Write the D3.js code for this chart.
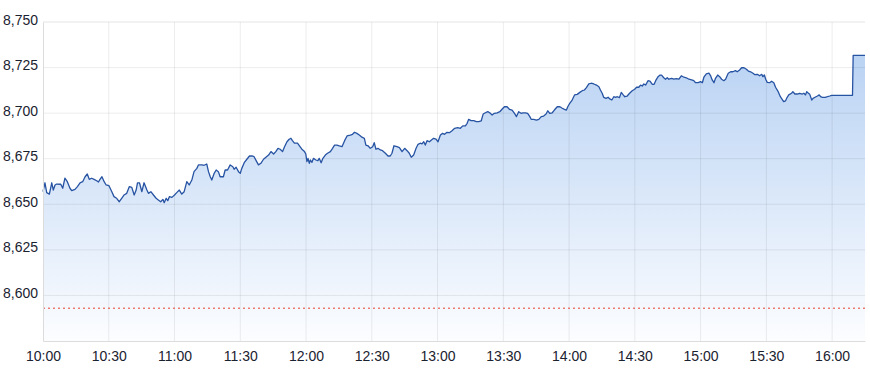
<!DOCTYPE html>
<html>
<head>
<meta charset="utf-8">
<script src="https://cdn.jsdelivr.net/npm/d3@7"></script>
<style>
  body { margin: 0; background: #fff; }
  #chart text { font-family: "Liberation Sans", Arial, sans-serif; }
</style>
</head>
<body>
<div id="chart"></div>
<script>
// minutes after 10:00 and index level
const minutes = [
  0, 0.9, 1.7, 2.9, 4.0, 4.7, 5.5, 6.2, 8.1, 9.0, 10.0, 11.1, 12.3, 13.1, 14.6, 15.7, 16.9, 18.1, 19.2, 20.2,
  21.1, 22.2, 23.3, 24.5, 25.3, 26.0, 26.9, 27.9, 28.8, 30.1, 31.4, 32.4, 33.6, 34.8, 35.9, 37.0, 38.2, 39.4, 40.5, 41.6,
  42.5, 43.1, 44.0, 45.1, 46.1, 47.4, 48.1, 49.2, 50.4, 51.6, 52.6, 53.7, 54.7, 55.3, 56.2, 56.9, 57.7, 58.8, 60.0, 61.0,
  62.2, 63.3, 64.4, 65.6, 66.7, 67.9, 68.9, 70.2, 70.9, 72.5, 73.5, 74.7, 75.5, 76.3, 77.0, 78.1, 79.0, 80.0, 80.8, 82.3,
  83.1, 84.2, 85.4, 86.6, 87.2, 88.1, 89.2, 90.0, 90.7, 91.8, 93.0, 94.2, 95.3, 96.3, 97.3, 98.3, 99.4, 100.6, 101.7, 102.9,
  104.0, 105.2, 106.2, 107.2, 108.2, 109.3, 110.2, 111.3, 112.3, 113.1, 113.8, 114.7, 116.1, 117.0, 118.1, 119.3, 119.9, 120.4, 120.9, 121.5,
  122.0, 122.7, 123.4, 124.5, 125.4, 126.0, 126.9, 127.7, 128.8, 129.8, 131.1, 132.1, 133.0, 134.1, 135.2, 136.4, 137.6, 138.7, 140.2, 141.2,
  142.1, 143.2, 144.3, 145.5, 146.6, 147.3, 148.3, 149.3, 150.4, 151.1, 151.9, 152.8, 153.9, 154.9, 156.2, 157.4, 158.4, 159.2, 160.1, 161.5,
  162.6, 163.8, 165.0, 166.1, 167.1, 168.0, 169.1, 170.2, 171.1, 172.1, 172.9, 173.7, 174.4, 175.2, 176.3, 177.2, 178.2, 179.3, 180.2, 181.3,
  182.3, 183.2, 184.3, 185.4, 186.6, 187.8, 189.2, 190.4, 191.5, 192.7, 193.5, 194.2, 195.3, 196.5, 197.7, 198.8, 199.9, 200.8, 201.8, 202.9,
  203.8, 204.9, 205.9, 207.2, 208.4, 209.4, 210.5, 211.7, 212.8, 214.0, 215.1, 216.0, 217.0, 218.1, 219.0, 220.1, 221.1, 222.1, 222.7, 223.9,
  225.1, 226.2, 227.3, 228.4, 229.5, 230.3, 231.2, 232.3, 233.3, 234.6, 235.8, 236.9, 237.9, 238.8, 239.4, 240.3, 241.4, 242.5, 243.7, 244.9,
  246.0, 247.0, 247.9, 249.0, 250.1, 251.3, 252.5, 253.6, 254.3, 255.1, 255.8, 256.9, 257.8, 258.6, 259.5, 260.4, 261.2, 262.0, 263.0, 263.8,
  264.7, 265.4, 266.5, 267.6, 268.8, 269.9, 270.8, 271.8, 272.6, 273.4, 274.1, 274.9, 276.0, 276.9, 278.0, 278.8, 279.5, 280.6, 281.5, 282.2,
  283.2, 284.0, 284.8, 285.5, 286.8, 287.8, 288.9, 290.1, 291.2, 292.4, 293.5, 294.7, 295.9, 296.9, 297.7, 298.9, 300.0, 300.8, 301.5, 302.6,
  303.8, 304.6, 305.3, 306.1, 306.8, 307.8, 308.7, 309.6, 310.6, 311.4, 312.6, 313.7, 314.7, 315.9, 316.7, 317.8, 318.7, 319.8, 320.9, 321.8,
  322.8, 323.9, 324.8, 325.9, 326.9, 327.9, 328.4, 329.1, 329.7, 330.4, 331.5, 332.4, 333.4, 334.2, 335.4, 336.4, 337.2, 337.9, 338.7, 339.5,
  340.2, 341.5, 342.1, 343.0, 344.1, 345.2, 346.4, 347.1, 347.9, 348.4, 349.2, 349.8, 350.7, 351.3, 352.2, 353.3, 354.1, 354.8, 355.6, 356.8,
  357.9, 358.9, 359.8, 369.3, 369.6, 375
];
const prices = [
  8656.9, 8661.8, 8656.4, 8655.6, 8661.8, 8657.8, 8660.6, 8661.1, 8661.0, 8658.8, 8664.3, 8662.4, 8658.8, 8657.5, 8658.2, 8659.7, 8661.8, 8662.4, 8665.1, 8666.6,
  8663.7, 8664.3, 8663.7, 8662.9, 8662.2, 8663.7, 8665.1, 8662.4, 8660.6, 8660.2, 8656.9, 8654.2, 8653.3, 8651.4, 8653.3, 8655.1, 8656.0, 8659.7, 8659.3, 8655.1,
  8657.8, 8661.8, 8661.8, 8656.9, 8661.8, 8657.8, 8656.0, 8656.9, 8655.1, 8653.3, 8652.4, 8651.4, 8652.7, 8650.9, 8653.3, 8652.0, 8654.2, 8653.8, 8655.1, 8656.4,
  8657.8, 8655.6, 8656.9, 8662.4, 8660.6, 8663.3, 8667.9, 8669.7, 8671.6, 8671.6, 8671.4, 8672.1, 8667.9, 8665.1, 8663.3, 8667.0, 8668.8, 8667.9, 8665.1, 8665.1,
  8668.8, 8668.8, 8671.6, 8670.6, 8669.2, 8670.3, 8667.9, 8667.0, 8669.7, 8672.8, 8674.7, 8676.5, 8676.5, 8676.1, 8673.8, 8671.6, 8672.5, 8674.7, 8675.8, 8677.0,
  8678.9, 8677.6, 8678.9, 8680.7, 8680.2, 8678.9, 8681.6, 8684.3, 8685.7, 8686.2, 8684.9, 8683.5, 8683.5, 8682.0, 8680.2, 8678.9, 8677.6, 8673.4, 8675.2, 8672.5,
  8674.3, 8673.0, 8675.2, 8674.3, 8673.9, 8675.2, 8672.8, 8675.2, 8677.0, 8678.0, 8678.9, 8680.7, 8682.5, 8682.5, 8682.0, 8681.6, 8684.9, 8687.5, 8688.0, 8688.4,
  8689.5, 8688.9, 8688.0, 8686.8, 8686.2, 8682.5, 8682.1, 8680.7, 8681.6, 8683.8, 8680.2, 8680.7, 8679.8, 8679.4, 8678.0, 8676.5, 8676.5, 8678.0, 8682.1, 8681.6,
  8681.1, 8678.9, 8680.7, 8679.4, 8678.0, 8675.8, 8677.0, 8680.7, 8682.9, 8683.5, 8683.1, 8684.3, 8682.5, 8684.9, 8684.3, 8685.3, 8686.2, 8685.7, 8684.3, 8688.0,
  8688.9, 8688.4, 8689.5, 8689.3, 8690.4, 8691.7, 8692.0, 8691.7, 8693.0, 8693.0, 8694.4, 8696.6, 8695.9, 8695.9, 8695.3, 8695.3, 8695.7, 8699.5, 8700.2, 8700.8,
  8700.2, 8699.0, 8699.9, 8700.2, 8700.8, 8702.1, 8703.5, 8703.5, 8702.1, 8701.7, 8699.9, 8698.1, 8700.8, 8699.9, 8700.2, 8700.2, 8699.9, 8698.1, 8696.6, 8696.6,
  8696.2, 8696.6, 8698.1, 8698.4, 8699.5, 8701.3, 8699.9, 8700.2, 8701.7, 8703.5, 8703.5, 8702.7, 8702.1, 8701.7, 8703.5, 8705.4, 8707.2, 8710.0, 8710.3, 8711.4,
  8712.3, 8712.7, 8714.0, 8716.0, 8716.4, 8716.0, 8715.4, 8714.5, 8712.7, 8710.9, 8708.7, 8708.1, 8708.7, 8707.8, 8707.2, 8709.0, 8708.7, 8709.0, 8708.5, 8711.4,
  8710.0, 8709.0, 8709.4, 8710.9, 8712.3, 8713.1, 8714.2, 8714.2, 8715.4, 8714.9, 8716.0, 8715.4, 8717.8, 8717.6, 8715.8, 8715.8, 8717.8, 8720.0, 8720.9, 8720.9,
  8719.4, 8718.6, 8719.4, 8718.6, 8719.1, 8718.7, 8718.9, 8718.6, 8720.5, 8719.7, 8719.4, 8718.6, 8718.2, 8717.8, 8716.7, 8716.7, 8717.3, 8716.7, 8719.7, 8721.6,
  8721.9, 8720.4, 8718.2, 8716.7, 8719.1, 8720.9, 8720.0, 8718.6, 8717.8, 8718.6, 8721.9, 8722.7, 8722.7, 8723.3, 8722.7, 8723.7, 8724.9, 8724.9, 8724.1, 8723.1,
  8722.7, 8721.9, 8721.1, 8721.3, 8720.5, 8721.3, 8720.0, 8720.9, 8718.6, 8716.9, 8716.7, 8717.5, 8716.7, 8714.2, 8711.8, 8709.0, 8707.6, 8706.3, 8706.7, 8708.7,
  8710.0, 8710.9, 8711.8, 8710.5, 8710.5, 8710.9, 8710.5, 8710.9, 8710.0, 8711.8, 8710.9, 8710.3, 8707.2, 8708.1, 8708.7, 8709.4, 8710.0, 8709.0, 8708.7, 8708.7,
  8709.0, 8709.4, 8709.8, 8709.8, 8731.7, 8731.7
];
const yTicks = [8600, 8625, 8650, 8675, 8700, 8725, 8750];
const prevClose = 8593;

// Set Dimensions
const width = 870;
const height = 371;
const margin = { top: 22, right: 5, bottom: 30, left: 43 };

const start = new Date(2024, 0, 2, 10, 0);
const end = new Date(2024, 0, 2, 16, 15);
const data = minutes.map((m, i) => [new Date(start.getTime() + m * 60000), prices[i]]);

const svg = d3.select("#chart")
  .append("svg")
  .attr("width", width)
  .attr("height", height);

const x = d3.scaleTime()
  .domain([start, end])
  .range([margin.left, width - margin.right]);

const y = d3.scaleLinear()
  .domain([8575, 8750])
  .range([height - margin.bottom, margin.top]);

// gradient under the line
const grad = svg.append("defs").append("linearGradient")
  .attr("id", "fill")
  .attr("gradientUnits", "userSpaceOnUse")
  .attr("x1", 0).attr("x2", 0)
  .attr("y1", margin.top).attr("y2", height - margin.bottom);
grad.append("stop").attr("offset", "0%").attr("stop-color", "#b2cef2");
grad.append("stop").attr("offset", "100%").attr("stop-color", "#fcfdff");

svg.append("path")
  .datum(data)
  .attr("fill", "url(#fill)")
  .attr("d", d3.area()
    .x(d => x(d[0]))
    .y0(y(8575))
    .y1(d => y(d[1])));

// Grid
const xTicks = x.ticks(d3.timeMinute.every(30));
svg.append("g")
  .selectAll("line")
  .data(xTicks.slice(1)).enter()
  .append("line")
  .attr("x1", d => x(d)).attr("x2", d => x(d))
  .attr("y1", margin.top).attr("y2", height - margin.bottom)
  .attr("stroke", "rgba(0,0,0,0.075)");

svg.append("g")
  .selectAll("line")
  .data(yTicks).enter()
  .append("line")
  .attr("x1", margin.left).attr("x2", width - margin.right)
  .attr("y1", d => y(d)).attr("y2", d => y(d))
  .attr("stroke", d => d === 8750 ? "rgba(0,0,0,0.1)" : "rgba(0,0,0,0.075)");

// previous close
svg.append("line")
  .attr("x1", margin.left).attr("x2", width - margin.right)
  .attr("y1", y(prevClose)).attr("y2", y(prevClose))
  .attr("stroke", "#e8412e")
  .attr("stroke-dasharray", "2,3");

// Line
svg.append("path")
  .datum(data)
  .attr("fill", "none")
  .attr("stroke", "#2753a3")
  .attr("stroke-width", 1.3)
  .attr("stroke-linejoin", "round")
  .attr("d", d3.line()
    .x(d => x(d[0]))
    .y(d => y(d[1])));

// X Axis
const xAxis = svg.append("g")
  .attr("transform", "translate(0," + (height - margin.bottom) + ")")
  .call(d3.axisBottom(x).tickValues(xTicks).tickFormat(d3.timeFormat("%H:%M")).tickSize(0).tickPadding(10));
xAxis.select(".domain").attr("stroke", "#dcdcdc");
xAxis.selectAll("text").attr("font-size", 14).attr("fill", "#1a2230");

// Y Axis
const yAxis = svg.append("g")
  .attr("transform", "translate(" + margin.left + ",0)")
  .call(d3.axisLeft(y).tickValues(yTicks).tickFormat(d3.format(",")).tickSize(0).tickPadding(5));
yAxis.select(".domain").attr("stroke", "#dcdcdc");
yAxis.selectAll("text").attr("font-size", 14).attr("fill", "#1a2230").attr("dy", "0.15em");
</script>
</body>
</html>
